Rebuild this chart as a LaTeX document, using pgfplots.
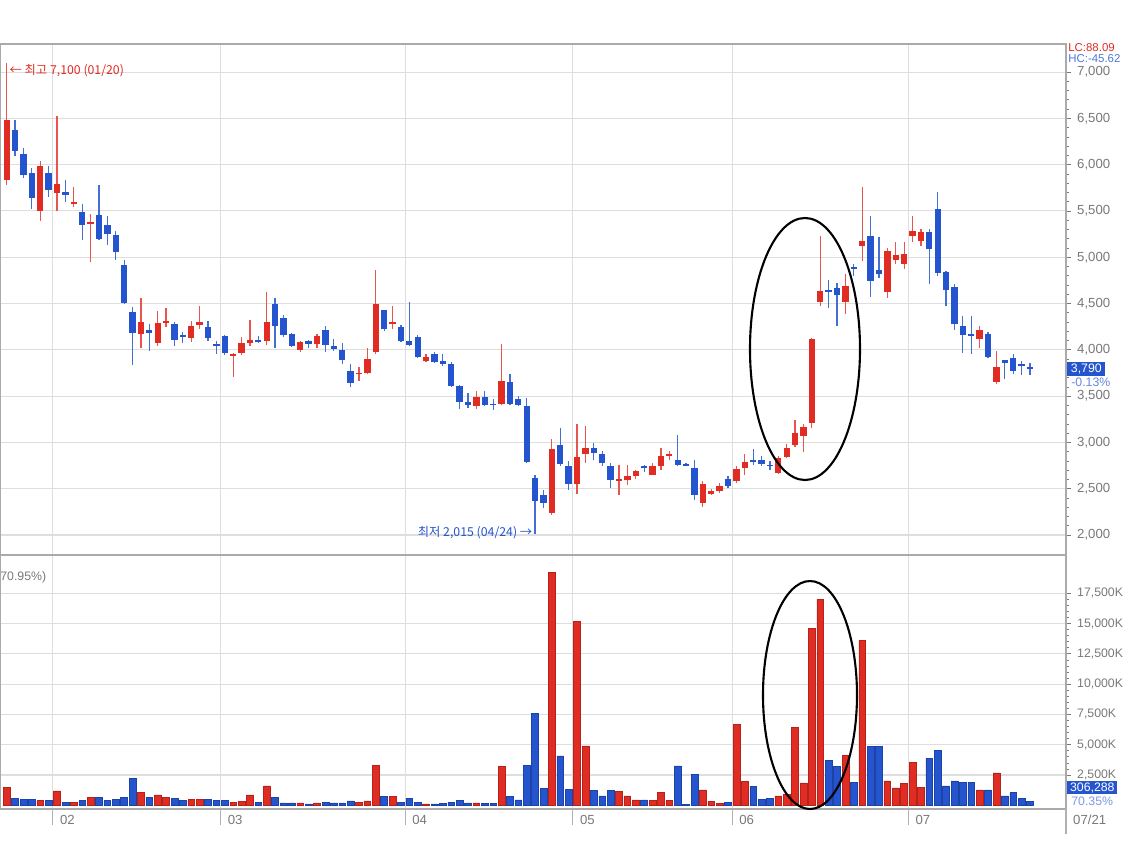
\documentclass[border=0pt]{standalone}
\usepackage{fontspec}
\setmainfont{Liberation Sans}
\newfontfamily\kr{Noto Sans CJK KR}
\usepackage{pgfplots}
\usepackage{pgfplotstable}
\pgfplotsset{compat=1.18}

\definecolor{cred}{RGB}{224,44,34}
\definecolor{cblue}{RGB}{36,84,206}
\definecolor{gridc}{RGB}{222,222,222}
\definecolor{tickc}{RGB}{120,120,120}
\definecolor{framec}{RGB}{170,170,170}

% up days (red): i open high low close volume(K)
\pgfplotstableread{
i o h l c v
0 5830 7100 5780 6480 1500
4 5495 6040 5390 5990 390
6 5690 6530 5495 5790 1200
8 5570 5755 5545 5600 270
10 5355 5470 4950 5380 660
16 4170 4560 4015 4300 1050
18 4070 4420 4040 4285 860
19 4285 4455 4250 4310 660
22 4130 4310 4085 4260 470
23 4270 4470 4225 4300 470
27 3935 3965 3705 3955 270
28 3965 4135 3940 4070 350
29 4070 4325 4040 4105 860
31 4100 4620 4050 4300 1600
35 3995 4090 3980 4080 210
37 4060 4170 4020 4150 210
42 3735 3815 3665 3755 270
43 3755 4015 3740 3905 360
44 3975 4860 3950 4495 3300
46 4280 4475 4220 4305 740
50 3875 3960 3865 3925 120
56 3390 3550 3360 3495 210
59 3410 4060 3400 3660 3200
65 2235 3040 2215 2930 19200
68 2555 3200 2445 2840 15200
69 2870 3175 2775 2940 4900
73 2580 2760 2435 2600 1180
74 2590 2760 2540 2635 770
75 2635 2705 2605 2695 440
77 2650 2775 2645 2740 385
78 2750 2940 2705 2855 1045
79 2850 2905 2815 2880 385
83 2350 2580 2305 2555 1265
84 2445 2495 2435 2470 300
85 2470 2560 2450 2530 165
87 2580 2740 2560 2710 6680
88 2725 2880 2650 2785 2000
92 2675 2855 2660 2830 770
93 2845 2985 2830 2945 900
94 2975 3245 2950 3105 6420
95 3070 3200 2895 3170 1860
96 3210 4130 3160 4115 14570
97 4515 5225 4470 4635 17020
100 4515 4820 4385 4690 4140
102 5120 5760 4955 5180 13590
105 4625 5095 4560 5070 2020
106 4975 5170 4930 5020 1430
107 4930 5170 4875 5030 1790
108 5230 5445 5170 5280 3550
109 5180 5310 5120 5270 1470
116 4120 4260 4015 4210 1270
118 3650 3990 3630 3815 2670
}\redtab

% down days (blue)
\pgfplotstableread{
i o h l c v
1 6375 6480 6090 6145 585
2 6120 6180 5860 5885 470
3 5910 5960 5520 5635 470
5 5910 5990 5650 5730 390
7 5700 5830 5600 5675 270
9 5485 5575 5185 5350 390
11 5455 5780 5185 5195 660
12 5350 5445 5130 5250 390
13 5245 5285 4975 5055 470
14 4915 4965 4500 4510 660
15 4405 4465 3835 4185 2200
17 4215 4275 3990 4185 660
20 4275 4300 4040 4105 585
21 4160 4195 4070 4135 390
24 4250 4310 4095 4130 470
25 4060 4095 3950 4040 390
26 4145 4155 3940 3965 390
30 4105 4145 4070 4080 270
32 4495 4565 4020 4260 650
33 4345 4375 4140 4160 210
34 4170 4185 4030 4040 210
36 4090 4110 4020 4060 120
38 4210 4260 3980 4055 270
39 4040 4120 3990 4010 210
40 4000 4070 3845 3885 210
41 3775 3845 3595 3645 360
45 4425 4435 4200 4220 740
47 4250 4265 4080 4090 270
48 4090 4515 4040 4055 590
49 4140 4160 3910 3925 270
51 3960 3975 3855 3865 120
52 3875 3960 3830 3845 150
53 3845 3865 3595 3605 270
54 3605 3625 3360 3440 410
55 3435 3530 3370 3400 210
57 3495 3550 3390 3400 150
58 3420 3470 3350 3400 150
60 3655 3735 3405 3420 710
61 3470 3500 3390 3405 440
62 3390 3480 2780 2790 3300
63 2615 2650 2015 2370 7590
64 2435 2490 2290 2345 1400
66 2975 3155 2740 2765 4070
67 2750 2795 2490 2555 1320
70 2945 2995 2805 2885 1210
71 2880 2905 2740 2775 770
72 2750 2775 2505 2590 1210
76 2740 2760 2685 2720 440
80 2815 3075 2740 2760 3245
81 2770 2780 2740 2745 50
82 2725 2815 2380 2435 2560
86 2605 2635 2505 2530 220
89 2805 2930 2760 2785 1540
90 2805 2850 2750 2765 495
91 2760 2795 2705 2740 580
98 4645 4755 4450 4625 3720
99 4670 4725 4255 4590 3230
101 4900 4930 4800 4875 1920
103 5225 5450 4570 4745 4860
104 4865 5215 4780 4815 4860
110 5270 5305 4715 5085 3880
111 5520 5705 4800 4830 4530
112 4845 4855 4470 4645 1600
113 4680 4715 4210 4275 2020
114 4260 4365 3970 4155 1920
115 4170 4365 3955 4145 1920
117 4175 4190 3910 3925 1270
119 3885 3890 3685 3860 780
120 3915 3960 3735 3770 1040
121 3845 3880 3730 3820 550
122 3815 3860 3730 3790 306
}\bluetab

\pgfplotsset{
  chartbase/.style={
    scale only axis, width=21.32cm,
    xmin=-0.8, xmax=126.3,
    ytick pos=right, yticklabel pos=right,
    tick align=outside,
    major tick length=0.1cm, minor tick length=0.06cm,
    grid=major,
    major grid style={draw=gridc, line width=0.6pt},
    axis line style={draw=framec, line width=0.8pt},
    every tick/.style={draw=tickc, line width=0.4pt},
    tick label style={font=\fontsize{7.5}{8}\selectfont, text=tickc},
    scaled y ticks=false,
    /pgf/number format/assume math mode=true,
    /pgf/number format/1000 sep={,},
  },
}

\begin{document}
\begin{tikzpicture}
\path[use as bounding box] (0,0) rectangle (22.5cm,-17.28cm);

% ---------------- price panel ----------------
\begin{axis}[chartbase,
  at={(0cm,-0.88cm)}, anchor=north west, height=10.22cm,
  ymin=1784, ymax=7303,
  xtick={5.5,25.5,47.5,67.5,86.5,107.5}, xticklabels={},
  xtick style={draw=none},
  ytick={2000,2500,...,7000}, minor y tick num=4,
  clip=false,
]
% wicks
\addplot[draw=none, mark=none, error bars/.cd, y dir=plus, y explicit, error mark=none,
  error bar style={draw=cred!80, line width=0.7pt}]
  table[x=i, y=l, y error expr=\thisrow{h}-\thisrow{l}] {\redtab};
\addplot[draw=none, mark=none, error bars/.cd, y dir=plus, y explicit, error mark=none,
  error bar style={draw=cblue!85, line width=0.7pt}]
  table[x=i, y=l, y error expr=\thisrow{h}-\thisrow{l}] {\bluetab};
% bodies
\addplot[draw=none, mark=none, error bars/.cd, y dir=plus, y explicit, error mark=none,
  error bar style={draw=cred, line width=3.6pt}]
  table[x=i, y=o, y error expr=\thisrow{c}-\thisrow{o}] {\redtab};
\addplot[draw=none, mark=none, error bars/.cd, y dir=plus, y explicit, error mark=none,
  error bar style={draw=cblue, line width=3.6pt}]
  table[x=i, y=c, y error expr=\thisrow{o}-\thisrow{c}] {\bluetab};

\node[anchor=west, text=cred, font=\kr\fontsize{7}{8}\selectfont, inner sep=0pt]
  at (axis cs:0.3,7020) {← 최고 7,100 (01/20)};
\node[anchor=east, text=cblue, font=\kr\fontsize{7}{8}\selectfont, inner sep=0pt]
  at (axis cs:62.7,2030) {최저 2,015 (04/24) →};
\end{axis}

% ---------------- volume panel ----------------
\begin{axis}[chartbase,
  at={(0cm,-11.1cm)}, anchor=north west, height=5.08cm,
  ymin=-305, ymax=20650,
  xtick={5.5,25.5,47.5,67.5,86.5,107.5,126.3},
  xticklabels={02,03,04,05,06,07,07/21},
  xtick style={draw=none},
  xticklabel style={anchor=north west, xshift=0.02cm, yshift=0.1cm},
  ytick={2500,5000,...,17500}, minor y tick num=4,
  yticklabel={\pgfmathprintnumber{\tick}K},
  y tick label style={font=\fontsize{7}{8}\selectfont},
  clip=false,
]
\addplot[ybar, bar width=0.135cm, bar shift=0pt, fill=cred, draw=cred!80!black, line width=0.3pt]
  table[x=i, y=v] {\redtab};
\addplot[ybar, bar width=0.135cm, bar shift=0pt, fill=cblue, draw=cblue!80!black, line width=0.3pt]
  table[x=i, y=v] {\bluetab};
% month separators below the axis
\draw[gridc!80!black, line width=0.6pt] (axis cs:5.5,-305) -- ++(0pt,-0.32cm);
\draw[gridc!80!black, line width=0.6pt] (axis cs:25.5,-305) -- ++(0pt,-0.32cm);
\draw[gridc!80!black, line width=0.6pt] (axis cs:47.5,-305) -- ++(0pt,-0.32cm);
\draw[gridc!80!black, line width=0.6pt] (axis cs:67.5,-305) -- ++(0pt,-0.32cm);
\draw[gridc!80!black, line width=0.6pt] (axis cs:86.5,-305) -- ++(0pt,-0.32cm);
\draw[gridc!80!black, line width=0.6pt] (axis cs:107.5,-305) -- ++(0pt,-0.32cm);
\draw[gridc!80!black, line width=0.6pt] (axis cs:126.3,-305) -- ++(0pt,-0.5cm);
\end{axis}

% ---------------- annotations ----------------
\draw[black, line width=1.2pt] (16.1cm,-6.98cm) ellipse [x radius=1.1cm, y radius=2.62cm];
\draw[black, line width=1.2pt] (16.2cm,-13.9cm) ellipse [x radius=0.94cm, y radius=2.28cm];

\node[anchor=west, text=cred, font=\fontsize{6.5}{7}\selectfont, inner sep=0pt] at (21.36cm,-0.96cm) {LC:88.09};
\node[anchor=west, text=cblue!80, font=\fontsize{6.5}{7}\selectfont, inner sep=0pt] at (21.36cm,-1.18cm) {HC:-45.62};
\node[anchor=west, fill=cblue, text=white, font=\fontsize{7}{8}\selectfont, inner sep=1pt, minimum width=0.76cm] at (21.34cm,-7.38cm) {3,790};
\node[anchor=west, text=cblue!70, font=\fontsize{7}{8}\selectfont, inner sep=0pt] at (21.42cm,-7.64cm) {-0.13\%};
\node[anchor=west, fill=cblue, text=white, font=\fontsize{7}{8}\selectfont, inner sep=1pt, minimum width=1.0cm] at (21.34cm,-15.75cm) {306,288};
\node[anchor=west, text=cblue!60, font=\fontsize{7}{8}\selectfont, inner sep=0pt] at (21.42cm,-16.02cm) {70.35\%};
\node[anchor=west, text=tickc, font=\fontsize{7}{8}\selectfont, inner sep=0pt] at (0cm,-11.54cm) {70.95\%)};
\end{tikzpicture}
\end{document}
